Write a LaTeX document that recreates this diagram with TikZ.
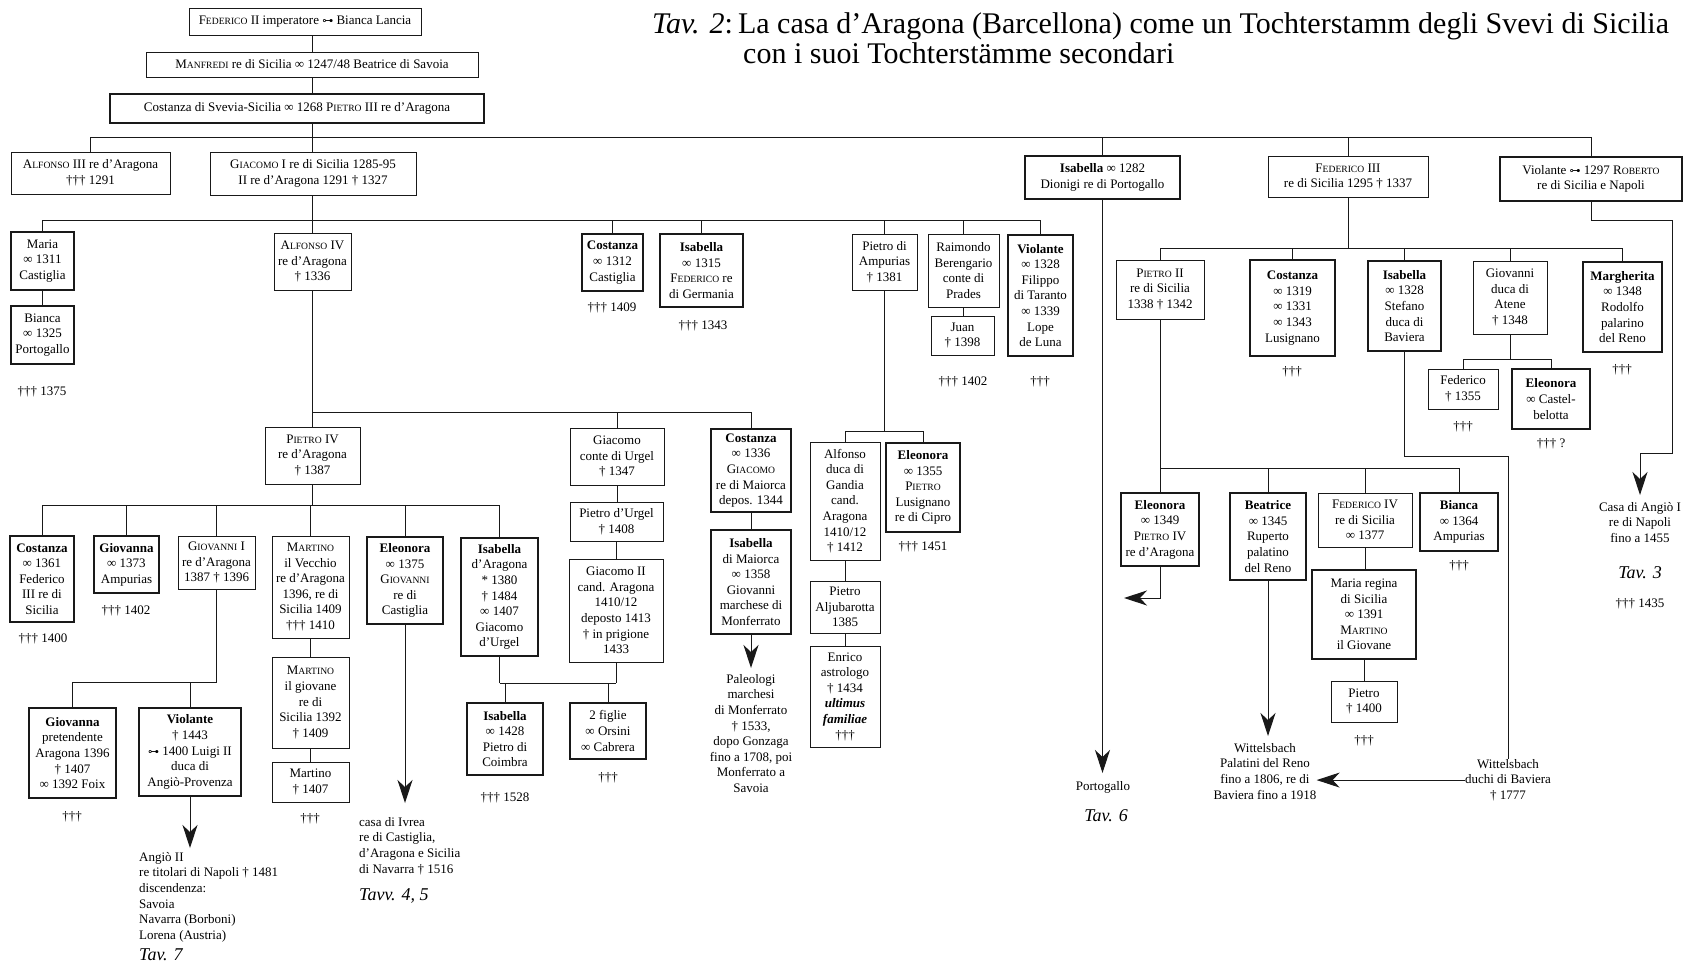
\documentclass[tikz,border=0pt]{standalone}
\usepackage{fontspec}
\setmainfont{Liberation Serif}
\newfontfamily\djvfont{DejaVu Sans}
\usetikzlibrary{arrows.meta}
\newcommand\sca[2]{#1{\fontsize{9.6}{11}\selectfont #2}}
\newcommand\mrg{{\djvfont\fontsize{11}{11}\selectfont ⊶}}
\newcommand\bx[7][box]{\node[#1,minimum width={#5-#3},minimum height={#6-#4}] (#2) at ({(#3+#5)/2},{(#4+#6)/2}) {#7};}
\begin{document}
\begin{tikzpicture}[x=1pt,y=-1pt,
 box/.style={draw=black!90,line width=1pt,inner sep=0pt,align=center,font=\fontsize{13}{15.6}\selectfont},
 tbox/.style={box,line width=2.2pt},
 ln/.style={draw=black!90,line width=1pt},
 arr/.style={ln,-{Stealth[length=23pt,width=15pt,inset=7pt]}},
 txt/.style={inner sep=0pt,align=center,font=\fontsize{13}{15.6}\selectfont},
 ltxt/.style={inner sep=0pt,align=left,font=\fontsize{13}{15.6}\selectfont},
 tav/.style={inner sep=0pt,font=\fontsize{18}{20}\selectfont\itshape}]
\fill[white] (0,0) rectangle (1698,964);
\useasboundingbox (0,0) rectangle (1698,964);
% title
\node[anchor=base west,inner sep=0pt,font=\fontsize{30}{30}\selectfont] (title1) at (652,33) {\textit{Tav. 2}:\,La casa d'Aragona (Barcellona) come un Tochterstamm degli Svevi di Sicilia};
\node[anchor=base west,inner sep=0pt,font=\fontsize{30}{30}\selectfont] (title2) at (743,63) {con i suoi Tochterstämme secondari};
% top
\bx{fed2}{189}{8}{421}{35}{\sca{F}{EDERICO} II imperatore \mrg{} Bianca Lancia}
\bx{manfredi}{146}{52}{478}{77}{\sca{M}{ANFREDI} re di Sicilia ∞ 1247/48 Beatrice di Savoia}
\bx[tbox]{costanzaT}{110}{94}{484}{123}{Costanza di Svevia-Sicilia ∞ 1268 \sca{P}{IETRO} III re d'Aragona}
\bx{alfonso3}{11}{152}{170}{194}{\sca{A}{LFONSO} III re d'Aragona\\††† 1291}
\bx{giacomo1}{210}{152}{416}{195}{\sca{G}{IACOMO} I re di Sicilia 1285-95\\II re d'Aragona 1291 † 1327}
\bx[tbox]{isabellaP}{1025}{156}{1180}{199}{\textbf{Isabella} ∞ 1282\\Dionigi re di Portogallo}
\bx{federico3}{1268}{156}{1428}{197}{\sca{F}{EDERICO} III\\re di Sicilia 1295 † 1337}
\bx[tbox]{violanteA}{1500}{157}{1682}{201}{Violante \mrg{} 1297 \sca{R}{OBERTO}\\re di Sicilia e Napoli}
% children of Giacomo I
\bx[tbox]{maria}{11}{232}{74}{290}{Maria\\∞ 1311\\Castiglia}
\bx[tbox]{bianca}{11}{306}{74}{364}{Bianca\\∞ 1325\\Portogallo}
\bx{alfonso4}{274}{233}{351}{290}{\sca{A}{LFONSO} IV\\re d'Aragona\\† 1336}
\bx[tbox]{costanza1312}{582}{234}{643}{291}{\textbf{Costanza}\\∞ 1312\\Castiglia}
\bx[tbox]{isabella1315}{660}{234}{743}{307}{\textbf{Isabella}\\∞ 1315\\\sca{F}{EDERICO} re\\di Germania}
\bx{pietroAmp}{852}{234}{917}{290}{Pietro di\\Ampurias\\† 1381}
\bx{raimondo}{928}{234}{999}{307}{Raimondo\\Berengario\\conte di\\Prades}
\bx{juan}{931}{316}{994}{355}{Juan\\† 1398}
\bx[tbox]{violante1328}{1008}{235}{1073}{356}{\textbf{Violante}\\∞ 1328\\Filippo\\di Taranto\\∞ 1339\\Lope\\de Luna}
\node[txt] (x1375) at (42,392) {††† 1375};
\node[txt] (x1409) at (612,308) {††† 1409};
\node[txt] (x1343) at (703,326) {††† 1343};
\node[txt] (x1402a) at (963,382) {††† 1402};
\node[txt] (xvio) at (1040,382) {†††};
% Alfonso IV branch
\bx{pietro4}{265}{427}{360}{484}{\sca{P}{IETRO} IV\\re d'Aragona\\† 1387}
\bx{giacomoU}{570}{428}{664}{485}{Giacomo\\conte di Urgel\\† 1347}
\bx{pietroU}{570}{502}{663}{541}{Pietro d'Urgel\\† 1408}
\bx{giacomo2}{569}{559}{663}{662}{Giacomo II\\cand. Aragona\\1410/12\\deposto 1413\\† in prigione\\1433}
\bx[tbox]{costanza1336}{711}{429}{791}{512}{\textbf{Costanza}\\∞ 1336\\\sca{G}{IACOMO}\\re di Maiorca\\depos. 1344}
\bx[tbox]{isabellaM}{711}{530}{791}{634}{\textbf{Isabella}\\di Maiorca\\∞ 1358\\Giovanni\\marchese di\\Monferrato}
\node[txt,anchor=north] (paleo) at (751,674) {Paleologi\\marchesi\\di Monferrato\\† 1533,\\dopo Gonzaga\\fino a 1708, poi\\Monferrato a\\Savoia};
% Pietro di Ampurias branch
\bx{alfonsoG}{810}{442}{880}{560}{Alfonso\\duca di\\Gandia\\cand.\\Aragona\\1410/12\\† 1412}
\bx[tbox]{eleonoraL}{886}{443}{960}{532}{\textbf{Eleonora}\\∞ 1355\\\sca{P}{IETRO}\\Lusignano\\re di Cipro}
\node[txt] (x1451) at (923,547) {††† 1451};
\bx{aljub}{810}{581}{880}{633}{Pietro\\Aljubarotta\\1385}
\bx{enrico}{810}{646}{880}{747}{Enrico\\astrologo\\† 1434\\\textbf{\textit{ultimus}}\\\textbf{\textit{familiae}}\\†††}
% Pietro IV branch
\bx[tbox]{costanza1361}{10}{536}{74}{622}{\textbf{Costanza}\\∞ 1361\\Federico\\III re di\\Sicilia}
\bx[tbox]{giovanna1373}{94}{536}{159}{593}{\textbf{Giovanna}\\∞ 1373\\Ampurias}
\bx{giovanni1}{178}{536}{255}{589}{\sca{G}{IOVANNI} I\\re d'Aragona\\1387 † 1396}
\bx{martinoV}{272}{536}{349}{638}{\sca{M}{ARTINO}\\il Vecchio\\re d'Aragona\\1396, re di\\Sicilia 1409\\††† 1410}
\bx[tbox]{eleonora1375}{367}{537}{443}{624}{\textbf{Eleonora}\\∞ 1375\\\sca{G}{IOVANNI}\\re di\\Castiglia}
\bx[tbox]{isabellaA}{461}{538}{538}{656}{\textbf{Isabella}\\d'Aragona\\* 1380\\† 1484\\∞ 1407\\Giacomo\\d'Urgel}
\node[txt] (x1400) at (43,639) {††† 1400};
\node[txt] (x1402b) at (126,611) {††† 1402};
\bx{martinoG}{272}{657}{349}{748}{\sca{M}{ARTINO}\\il giovane\\re di\\Sicilia 1392\\† 1409}
\bx{martino1407}{272}{762}{349}{802}{Martino\\† 1407}
\node[txt] (xmart) at (310,819) {†††};
\node[ltxt,anchor=north west] (ivrea) at (359,817) {casa di Ivrea\\re di Castiglia,\\d'Aragona e Sicilia\\di Navarra † 1516};
\node[tav,anchor=west] (tav45) at (359,896) {Tavv. 4, 5};
\bx[tbox]{giovannaP}{29}{708}{116}{798}{\textbf{Giovanna}\\pretendente\\Aragona 1396\\† 1407\\∞ 1392 Foix}
\bx[tbox]{violanteB}{139}{708}{241}{796}{\textbf{Violante}\\† 1443\\\mrg{} 1400 Luigi II\\duca di\\Angiò-Provenza}
\node[txt] (xgiov) at (72,817) {†††};
\node[ltxt,anchor=north west] (angio2) at (139,852) {Angiò II\\re titolari di Napoli † 1481\\discendenza:\\Savoia\\Navarra (Borboni)\\Lorena (Austria)};
\node[tav,anchor=base west] (tav7) at (139,960) {Tav. 7};
\bx[tbox]{isabella1428}{467}{703}{543}{775}{\textbf{Isabella}\\∞ 1428\\Pietro di\\Coimbra}
\bx[tbox]{figlie}{570}{703}{646}{759}{2 figlie\\∞ Orsini\\∞ Cabrera}
\node[txt] (x1528) at (505,798) {††† 1528};
\node[txt] (xfig) at (608,778) {†††};
% Portogallo
\node[txt,anchor=north] (portog) at (1103,781) {Portogallo};
\node[tav] (tav6) at (1106,816) {Tav. 6};
% Federico III branch
\bx{pietro2}{1116}{260}{1204}{319}{\sca{P}{IETRO} II\\re di Sicilia\\1338 † 1342}
\bx[tbox]{costanza1319}{1250}{260}{1335}{356}{\textbf{Costanza}\\∞ 1319\\∞ 1331\\∞ 1343\\Lusignano}
\bx[tbox]{isabella1328}{1368}{261}{1441}{351}{\textbf{Isabella}\\∞ 1328\\Stefano\\duca di\\Baviera}
\bx{giovanniA}{1473}{261}{1547}{334}{Giovanni\\duca di\\Atene\\† 1348}
\bx[tbox]{margherita}{1583}{262}{1662}{352}{\textbf{Margherita}\\∞ 1348\\Rodolfo\\palarino\\del Reno}
\node[txt] (xcos19) at (1292,372) {†††};
\node[txt] (xmarg) at (1622,370) {†††};
\bx{federico1355}{1428}{369}{1498}{409}{Federico\\† 1355}
\bx[tbox]{eleonoraCa}{1512}{369}{1590}{429}{\textbf{Eleonora}\\∞ Castel-\\belotta}
\node[txt] (xfed55) at (1463,427) {†††};
\node[txt] (xele) at (1551,444) {††† ?};
\bx[tbox]{eleonora1349}{1121}{493}{1199}{566}{\textbf{Eleonora}\\∞ 1349\\\sca{P}{IETRO} IV\\re d'Aragona}
\bx[tbox]{beatrice}{1230}{493}{1306}{580}{\textbf{Beatrice}\\∞ 1345\\Ruperto\\palatino\\del Reno}
\bx{federico4}{1318}{493}{1412}{547}{\sca{F}{EDERICO} IV\\re di Sicilia\\∞ 1377}
\bx[tbox]{bianca1364}{1420}{493}{1498}{551}{\textbf{Bianca}\\∞ 1364\\Ampurias}
\bx[tbox]{mariaR}{1312}{570}{1416}{659}{Maria regina\\di Sicilia\\∞ 1391\\\sca{M}{ARTINO}\\il Giovane}
\bx{pietro1400}{1331}{681}{1397}{722}{Pietro\\† 1400}
\node[txt] (xbia) at (1459,566) {†††};
\node[txt] (xpie) at (1364,741) {†††};
\node[txt,anchor=north] (palatini) at (1265,743) {Wittelsbach\\Palatini del Reno\\fino a 1806, re di\\Baviera fino a 1918};
\node[txt,anchor=north] (duchi) at (1508,759) {Wittelsbach\\duchi di Baviera\\† 1777};
\node[txt,anchor=north] (angioI) at (1640,502) {Casa di Angiò I\\re di Napoli\\fino a 1455};
\node[tav] (tav3) at (1640,573) {Tav. 3};
\node[txt] (x1435) at (1640,604) {††† 1435};
% coordinates
\coordinate (spine) at (312.5,0);
\coordinate (b1) at (0,137);
\coordinate (b2) at (0,220);
\coordinate (b3) at (0,412);
\coordinate (b4) at (0,431);
\coordinate (b5) at (0,505);
\coordinate (b6) at (0,682);
\coordinate (b7) at (0,683);
\coordinate (b8) at (0,248);
\coordinate (b9) at (0,359);
\coordinate (b10) at (0,468);
\coordinate (vA1) at (1672,220);
\coordinate (vA2) at (1672,453);
\coordinate (elTip) at (1124,598);
% connectors: top
\draw[ln] (spine |- fed2.south) -- (spine |- manfredi.north);
\draw[ln] (spine |- manfredi.south) -- (spine |- costanzaT.north);
\draw[ln] (spine |- costanzaT.south) -- (spine |- giacomo1.north);
\draw[ln] (alfonso3.north |- b1) -- (violanteA.north |- b1);
\foreach \n in {alfonso3,isabellaP,federico3,violanteA} \draw[ln] (\n.north) -- (\n.north |- b1);
% Giacomo I
\draw[ln] (spine |- giacomo1.south) -- (spine |- b2);
\draw[ln] (maria.north |- b2) -- (violante1328.north |- b2);
\foreach \n in {maria,alfonso4,costanza1312,isabella1315,pietroAmp,raimondo,violante1328} \draw[ln] (\n.north) -- (\n.north |- b2);
\draw[ln] (maria.south) -- (bianca.north);
\draw[ln] (raimondo.south) -- (raimondo.south |- juan.north);
% Alfonso IV
\draw[ln] (alfonso4.south) -- (alfonso4.south |- pietro4.north);
\draw[ln] (pietro4.north |- b3) -- (costanza1336.north |- b3);
\foreach \n in {giacomoU,costanza1336} \draw[ln] (\n.north) -- (\n.north |- b3);
\draw[ln] (giacomoU.south) -- (giacomoU.south |- pietroU.north);
\draw[ln] (pietroU.south) -- (pietroU.south |- giacomo2.north);
\draw[ln] (costanza1336.south) -- (costanza1336.south |- isabellaM.north);
\draw[arr,shorten >=6pt] (isabellaM.south) -- (isabellaM.south |- paleo.north);
% Pietro di Ampurias
\draw[ln] (pietroAmp.south) -- (pietroAmp.south |- b4);
\draw[ln] (alfonsoG.north |- b4) -- (eleonoraL.north |- b4);
\foreach \n in {alfonsoG,eleonoraL} \draw[ln] (\n.north) -- (\n.north |- b4);
\draw[ln] (alfonsoG.south) -- (alfonsoG.south |- aljub.north);
\draw[ln] (aljub.south) -- (aljub.south |- enrico.north);
% Pietro IV
\draw[ln] (pietro4.south) -- (pietro4.south |- b5);
\draw[ln] (costanza1361.north |- b5) -- (isabellaA.north |- b5);
\foreach \n in {costanza1361,giovanna1373,giovanni1,martinoV,eleonora1375,isabellaA} \draw[ln] (\n.north) -- (\n.north |- b5);
\draw[ln] (martinoV.south) -- (martinoV.south |- martinoG.north);
\draw[ln] (martinoG.south) -- (martinoG.south |- martino1407.north);
\draw[arr,shorten >=14pt] (eleonora1375.south) -- (eleonora1375.south |- ivrea.north);
% Giovanni I
\draw[ln] (giovanni1.south) -- (giovanni1.south |- b6);
\draw[ln] (giovannaP.north |- b6) -- (giovanni1.south |- b6);
\foreach \n in {giovannaP,violanteB} \draw[ln] (\n.north) -- (\n.north |- b6);
\draw[arr,shorten >=4pt] (violanteB.south) -- (violanteB.south |- angio2.north);
% Isabella d'Aragona + Giacomo II
\draw[ln] (isabellaA.south) -- (isabellaA.south |- b7);
\draw[ln] (giacomo2.south) -- (giacomo2.south |- b7);
\draw[ln] (isabellaA.south |- b7) -- (giacomo2.south |- b7);
\foreach \n in {isabella1428,figlie} \draw[ln] (\n.north) -- (\n.north |- b7);
% Isabella -> Portogallo
\draw[arr,shorten >=8pt] (isabellaP.south) -- (isabellaP.south |- portog.north);
% Federico III
\draw[ln] (federico3.south) -- (federico3.south |- b8);
\draw[ln] (pietro2.north |- b8) -- (margherita.north |- b8);
\foreach \n in {pietro2,costanza1319,isabella1328,giovanniA,margherita} \draw[ln] (\n.north) -- (\n.north |- b8);
\draw[ln] (giovanniA.south) -- (giovanniA.south |- b9);
\draw[ln] (federico1355.north |- b9) -- (eleonoraCa.north |- b9);
\foreach \n in {federico1355,eleonoraCa} \draw[ln] (\n.north) -- (\n.north |- b9);
% Pietro II
\draw[ln] (pietro2.south) -- (pietro2.south |- b10);
\draw[ln] (eleonora1349.north |- b10) -- (bianca1364.north |- b10);
\foreach \n in {eleonora1349,beatrice,federico4,bianca1364} \draw[ln] (\n.north) -- (\n.north |- b10);
\draw[arr] (eleonora1349.south) |- (elTip);
\draw[arr,shorten >=7pt] (beatrice.south) -- (beatrice.south |- palatini.north);
\draw[ln] (federico4.south) -- (federico4.south |- mariaR.north);
\draw[ln] (mariaR.south) -- (mariaR.south |- pietro1400.north);
% Isabella 1328 -> Wittelsbach duchi
\draw[ln] (isabella1328.south) -- ++(0,104) -| (duchi.north);
\draw[arr] (duchi.west) -- (palatini.east |- duchi.west);
% Violante -> Angio I
\draw[arr,shorten >=7pt] (violanteA.south) |- (vA1) -- (vA2) -| (angioI.north);
\end{tikzpicture}
\end{document}
